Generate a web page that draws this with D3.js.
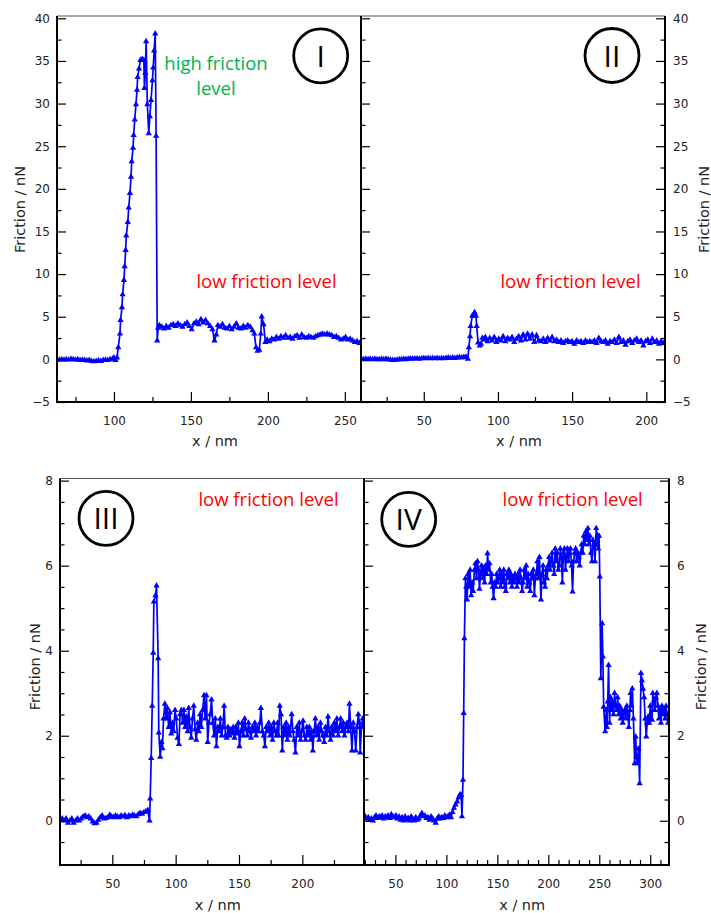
<!DOCTYPE html>
<html><head><meta charset="utf-8">
<script src="https://cdn.jsdelivr.net/npm/d3@7"></script>
<style>body{margin:0;background:#fff}svg{display:block}</style>
</head><body>
<svg id="c" width="711" height="913"></svg>
<script>
// ---------- DATA (x / nm, Friction / nN) ----------
const panelI = [[63,-0.1],[64.5,-0.05],[66,0],[67.5,-0.05],[69,0],[70.5,-0.05],[72,0.05],[73.5,0],[75,-0.05],[76.5,0],[78,-0.1],[79.5,-0.05],[81,-0.1],[82.5,-0.15],[84,-0.1],[85.5,-0.2],[87,-0.25],[88.5,-0.2],[90,-0.15],[91.5,-0.2],[93,-0.1],[94.5,-0.05],[96,-0.1],[97.5,0],[99,0.05],[100,0.2],[101,-0.1],[102,0.2],
[102.8,1.4],[103.9,3.0],[104.3,4.6],[105.2,6.1],[105.6,7.6],[106.5,9.3],[107,10.9],[107.6,12.8],[108,14.5],[109,16.1],[109.6,17.8],[110.4,19.5],[111.1,21.4],[111.5,23.2],[112.4,24.8],[112.8,26.3],[113.5,28.1],[114.3,29.9],[115,31.6],[115.4,33.1],[116.3,34.1],[117.2,35.1],[118.3,35.2],[119.4,35.1],[119.8,31.8],[120.4,33.6],[120.9,37.3],[121.7,29.9],[122.6,26.5],[123.3,28.5],[124.1,30.4],[125,32.7],[125.5,34.2],[126.1,36.2],[126.8,38.2],[127.4,26.2],[128.1,2.2],[128.7,3.7],
[129.5,4.0],[131,3.8],[132.5,3.6],[134,3.9],[135.5,3.7],[137,4.0],[138.5,4.1],[140,3.9],[141.5,4.2],[143,4.0],[144.5,3.8],[146,4.1],[147.5,4.3],[149,3.9],[150.5,3.5],[152,4.2],[153.5,4.4],[155,4.1],[156.5,4.7],[158,4.3],[159.5,4.6],[161,4.2],[162.5,3.9],[164,3.5],[165.3,2.2],[166.5,2.9],[167.5,4.0],[169,3.8],[170.5,4.1],[172,3.7],[173.5,3.6],[175,3.9],[176.5,3.5],[178,3.8],[179.5,4.2],[181,3.7],[182.5,3.6],[184,3.9],[185.5,3.7],[187,4.0],[188.5,3.8],[190,3.4],[191.2,3.0],[192.3,1.4],[193.3,1.0],[194.4,1.1],[195.4,3.0],[196,5.0],[197.2,4.1],[198.4,2.0],[199.5,2.3],[201,2.1],[202.5,2.4],[204,2.3],[205.5,2.6],[207,2.4],[208.5,2.7],[210,2.5],[211.5,2.8],[213,2.5],[214.5,2.6],[216,2.4],[217.5,2.7],[219,2.8],[220.5,2.5],[222,2.9],[223.5,2.6],[225,2.5],[226.5,2.7],[228,2.6],[229.5,2.5],[231,2.7],[232.5,2.8],[234,2.9],[235.5,3.0],[237,2.9],[238.5,3.0],[240,2.9],[241.5,2.8],[243,2.6],[244.5,2.7],[246,2.5],[247.5,2.3],[249,2.4],[250.5,2.6],[252,2.3],[253.5,2.4],[255,2.2],[256.5,2.0],[258,2.1],[259.5,1.9],[261,2.0]];

const panelII = [[8,0.05],[9.5,0.0],[11,0.05],[12.5,0.0],[14,0.05],[15.5,0.0],[17,0.05],[18.5,0.0],[20,0.0],[21.5,0.05],[23,0.0],[24.5,0.05],[26,0.0],[27.5,-0.05],[29,-0.1],[30.5,-0.1],[32,-0.05],[33.5,0.0],[35,0.0],[36.5,0.05],[38,0.0],[39.5,0.05],[41,0.1],[42.5,0.05],[44,0.1],[45.5,0.1],[47,0.05],[48.5,0.1],[50,0.15],[51.5,0.1],[53,0.15],[54.5,0.1],[56,0.15],[57.5,0.1],[59,0.15],[60.5,0.1],[62,0.15],[63.5,0.1],[65,0.15],[66.5,0.2],[68,0.15],[69.5,0.2],[71,0.15],[72.5,0.2],[74,0.25],[75.5,0.2],[77,0.25],[78.5,0.3],[79.7,0.05],
[80.4,1.4],[81.2,2.7],[81.6,3.9],[82.7,5.1],[83.6,5.3],[84.3,5.5],[85.2,5.1],[85.7,3.9],[86.6,1.95],[87.7,1.6],[88.6,1.8],[89.5,2.5],[90.5,2.3],
[91.5,2.6],[93,2.1],[94.5,2.5],[96,2.2],[97.5,2.6],[99,2.0],[100.5,2.4],[102,2.2],[103.5,2.7],[105,2.1],[106.5,2.5],[108,2.3],[109.5,2.6],[111,2.0],[112.5,2.4],[114,2.7],[115.5,2.2],[117,2.9],[118.5,2.3],[120,3.0],[121.5,2.4],[123,2.9],[124.5,2.0],[126,2.8],[127.5,2.2],[129,2.1],[130.5,2.4],[132,2.0],[133.5,2.5],[135,2.2],[136.5,2.6],[138,2.1],[139.5,2.3],[141,2.0],[142.5,2.2],[144,1.9],[145.5,2.1],[147,2.2],[148.5,2.0],[150,2.1],[151.5,1.8],[153,2.2],[154.5,2.0],[156,2.1],[157.5,1.9],[159,2.2],[160.5,2.0],[162,2.1],[163.5,2.0],[165,2.2],[166.5,1.9],[168,2.5],[169.5,2.1],[171,2.0],[172.5,2.2],[174,1.8],[175.5,2.1],[177,2.0],[178.5,2.3],[180,1.9],[181.5,2.6],[183,2.0],[184.5,2.2],[186,1.7],[187.5,2.1],[189,2.3],[190.5,1.9],[192,2.2],[193.5,2.4],[195,2.0],[196.5,2.2],[198,1.6],[199.5,2.1],[201,2.3],[202.5,1.9],[204,2.4],[205.5,2.0],[207,2.2],[208.5,1.8],[210,2.1],[211.5,1.9],[213,2.0]];

const panelIII = [[9,0.03],[10.5,0.05],[12,0.0],[13.5,0.05],[15,-0.05],[16.5,0.0],[18,0.05],[19.5,-0.05],[21,0.0],[22.5,0.05],[24,0.0],[25.5,0.05],[27,0.1],[28.5,0.12],[30,0.08],[31.5,0.1],[33,0.05],[34.5,-0.02],[36,-0.06],[37.5,-0.05],[39,0.02],[40.5,0.08],[42,0.12],[43.5,0.05],[45,0.06],[46.5,0.08],[48,0.14],[49.5,0.1],[51,0.08],[52.5,0.12],[54,0.1],[55.5,0.08],[57,0.12],[58.5,0.1],[60,0.13],[61.5,0.08],[63,0.12],[64.5,0.1],[66,0.14],[67.5,0.12],[69,0.1],[70.5,0.15],[72,0.18],[73.5,0.16],[75,0.2],[76.5,0.22],[78,0.25],[79.4,0.0],
[79.9,0.52],[80.7,1.47],[81.5,2.7],[82.3,3.95],[82.8,5.15],[84.1,5.3],[84.9,5.53],[86.2,3.82],[86.7,2.07],[87.8,1.5],[88.8,1.85],[89.6,1.7],[90.4,2.4],[91.5,2.75],
[92.5,2.4],[93.5,2.65],[94.5,2.2],[95.5,2.55],[96.5,2.05],[97.5,2.3],[98.5,2.1],[99.5,2.6],[100.5,2.4],[101.5,1.95],[102.6,1.8],[103.5,2.5],[104.5,2.6],[105.5,2.3],[106.5,2.6],[107.5,2.2],[108.5,2.45],[109.5,2.1],[110.3,2.65],[111.3,2.2],[112.3,1.95],[113.3,2.4],[114.3,2.7],[115.3,2.15],[116.3,1.9],[117.3,2.3],[118.3,2.1],[119.3,2.5],[120.3,2.2],[121.3,2.6],[122.4,2.95],[123.3,2.4],[124.3,2.95],[125.3,1.85],[126.3,2.3],[127.3,2.5],[128.3,2.85],[129.3,2.3],[130.3,2.0],[131.3,2.4],[132.2,1.75],[133.3,2.2],[134.3,2.1],[135.3,2.4],[136.3,2.0],[137.3,2.2],[138.3,2.7],[139.3,2.0],[140.3,1.95],[141.3,2.2],[142.5,2.0],[143.5,2.15],[144.5,2.05],[145.5,2.2],[146.5,1.95],[147.5,2.2],[148.5,2.05],[149.5,2.3],[150.4,1.75],[151.5,2.1],[152.5,2.3],[153.5,2.0],[154.5,2.4],[155.5,2.15],[156.5,2.0],[157.5,2.3],[158.5,2.1],[159.5,1.95],[160.5,2.2],[161.5,2.1],[162.5,2.3],[163.5,2.0],[164.5,2.2],[165.5,2.1],[166.5,2.3],[167.3,2.65],[168.5,2.1],[169.5,2.0],[170.5,1.75],[171.5,2.2],[172.5,2.1],[173.5,2.3],[174.5,2.0],[175.5,2.2],[176.5,1.9],[177.5,2.3],[178.5,2.1],[179.5,2.0],[180.5,2.3],[181.3,2.0],[182.2,2.7],[183.2,2.5],[184.2,1.65],[185.2,2.2],[186.2,2.0],[187.2,2.3],[188.2,1.9],[189.2,2.2],[190.2,2.0],[191.6,2.5],[192.6,2.1],[193.6,1.9],[194.6,1.6],[195.6,2.2],[196.6,2.0],[197.6,2.3],[198.6,1.9],[199.6,2.1],[200.6,2.35],[201.6,2.0],[202.6,1.9],[203.6,2.2],[204.6,2.0],[205.6,2.2],[206.6,1.9],[207.5,2.1],[208.3,1.65],[209.3,2.1],[210.3,2.4],[211.3,2.0],[212.3,2.2],[213.3,1.9],[214.3,2.3],[215.3,2.1],[216.3,2.0],[217.3,1.85],[218.3,2.2],[219.3,2.0],[220.3,2.45],[221.3,2.1],[222.3,1.9],[223.3,2.2],[224.3,2.0],[225.3,2.3],[226.3,2.1],[227.3,2.4],[228.3,2.0],[229.3,2.2],[230.3,2.4],[231.3,2.1],[232.3,2.3],[233.3,2.0],[234.3,2.2],[235.3,2.3],[236.3,2.1],[237.2,2.75],[238.2,2.2],[239.2,1.65],[240.2,2.3],[241.2,2.1],[242.2,1.65],[243.2,2.2],[244.2,2.5],[245.1,2.3],[245.7,1.6],[246.7,2.2],[247.7,2.4],[248.7,2.2],[249.5,2.3]];

const panelIV = [[19,0.05],[20.5,0.1],[22,0.05],[23.5,0.08],[25,0.02],[26.5,0.05],[28,0.0],[29.5,0.08],[31,0.12],[32.5,0.06],[34,0.1],[35.5,0.08],[37,0.12],[38.5,0.05],[40,0.1],[41.5,0.08],[43,0.12],[44.5,0.06],[46,0.15],[47.5,0.1],[49,0.08],[50.5,0.12],[52,0.05],[53.5,0.1],[55,0.02],[56.5,0.08],[58,0.0],[59.5,0.1],[61,0.02],[62.5,0.06],[64,0.0],[65.5,0.1],[67,0.05],[68.5,0.0],[70,0.08],[71.5,0.02],[73,0.05],[74.5,0.12],[76,0.18],[77.5,0.1],[79,0.12],[80.5,0.06],[82,0.08],[83.5,0.02],[85,0.1],[86.5,0.05],[88,0.0],[89.5,-0.05],[91,0.05],[92.5,0.1],[94,0.05],[95.5,0.08],[97,0.06],[98.5,0.12],[100,0.08],[101.5,0.1],[103,0.14],[104.5,0.08],[106,0.2],[107.5,0.3],[109,0.38],[110.5,0.45],[112,0.55],[113.5,0.62],[114.5,0.6],[115.3,0.1],
[116.3,0.96],[117,2.53],[117.7,4.29],[118.7,5.7],[119.5,5.5],[120.3,5.2],
[121.3,5.8],[122.3,5.5],[123.3,5.9],[124.3,5.3],[125.3,5.6],[126.3,5.4],[127.5,5.9],[128.5,6.05],[129.5,5.7],[130.5,6.1],[131.5,5.9],[132.5,5.45],[133.5,5.8],[134.5,6.0],[135.5,5.7],[136.5,5.95],[137.5,5.6],[138.5,6.0],[139.5,5.8],[140.4,6.29],[141.4,5.9],[142.4,6.05],[143.5,5.6],[144.5,5.8],[145.4,5.5],[146.3,5.23],[147.3,5.6],[148.3,5.5],[149.3,5.8],[150.3,5.6],[151.3,5.7],[152.3,5.9],[153.3,5.5],[154.3,5.8],[155.3,5.6],[156.3,5.9],[157.3,5.5],[158.3,5.4],[159.3,5.8],[160.3,5.7],[161.3,5.9],[162.3,5.6],[163.3,5.8],[164.3,5.5],[165.3,5.7],[166.3,5.6],[167.3,5.8],[168.3,5.7],[169.3,5.5],[170.3,5.8],[171.3,5.6],[172.3,5.9],[173.3,5.7],[174.3,5.4],[175.3,5.6],[176.3,5.9],[177.3,5.7],[178.3,6.0],[179.3,5.5],[180.3,5.8],[181.3,5.6],[182.3,5.4],[183.3,5.8],[184.3,5.7],[185.3,5.9],[186.3,5.3],[187.3,5.7],[188.3,5.8],[189.3,6.1],[190.3,5.7],[191.3,6.2],[192.8,5.2],[193.8,5.8],[194.8,6.0],[195.8,5.6],[196.8,5.5],[197.8,5.9],[198.8,5.7],[199.8,6.0],[200.8,6.2],[201.8,5.9],[202.8,6.1],[203.8,6.3],[204.8,6.0],[205.8,5.8],[206.8,6.4],[207.8,6.1],[208.8,6.3],[209.8,5.9],[210.8,6.0],[211.8,6.4],[212.8,6.2],[213.8,5.6],[214.8,6.3],[215.8,6.4],[216.8,5.9],[217.8,6.2],[218.8,6.4],[219.8,6.1],[220.8,6.3],[221.8,6.4],[222.8,6.0],[223.8,5.39],[224.8,6.1],[225.8,6.3],[226.8,6.4],[227.8,6.1],[228.8,6.3],[229.8,6.2],[230.8,6.0],[231.8,6.3],[232.8,6.5],[233.8,6.3],[234.8,6.7],[235.8,6.5],[236.8,6.8],[237.8,6.6],[238.8,6.88],[239.8,6.5],[240.8,6.7],[241.8,6.3],[242.8,6.1],[243.8,6.6],[244.8,6.5],[245.8,6.1],[246.5,6.5],[247,6.88],[248,6.7],[249,6.4],[249.8,6.7],[250.5,5.74],[251.5,3.35],[252.8,4.64],[253.5,3.86],[254.3,2.68],[255.8,2.1],[256.8,2.6],[257.5,2.2],[258.3,2.8],[259.1,3.66],[260.1,2.3],[261,2.9],[262,2.6],[263,2.8],[264,2.5],[265,3.0],[266,2.7],[267,2.6],[268,2.9],[269,2.5],[270,2.7],[271,2.4],[272,2.6],[273,2.3],[274,2.5],[275,2.6],[276,2.4],[277,2.7],[278,2.5],[279,2.2],[280,2.6],[280.7,3.0],[281.5,2.7],[282.4,3.11],[283.5,2.4],[284.7,1.35],[285.7,1.98],[286.5,1.5],[287.5,1.35],[288.5,1.7],[289.6,0.88],[290.9,3.47],[291.9,3.3],[292.9,3.1],[294,2.9],[295,2.4],[296.1,1.98],[297,2.3],[298,2.45],[299,2.3],[300,2.7],[301,2.4],[301.8,2.37],[302.5,3.0],[303.5,2.8],[304.5,2.6],[305.5,2.9],[306.5,3.0],[307.5,2.7],[308.5,2.4],[309.5,2.6],[310.5,2.3],[311.5,2.7],[312.5,2.5],[313.5,2.6],[314.5,2.4],[315.5,2.7],[316.5,2.5],[317.5,2.3],[318.3,2.4]];

// tick values
const yMajorTop = [-5,0,5,10,15,20,25,30,35,40];
const yMinorTop = [-2.5,2.5,7.5,12.5,17.5,22.5,27.5,32.5,37.5];
const yMajorBot = [0,2,4,6,8];
const yMinorBot = [-0.5,0.5,1,1.5,2.5,3,3.5,4.5,5,5.5,6.5,7,7.5];
const xMajorI = [100,150,200,250], xMinorI = [75,125,175,225];
const xMajorII = [50,100,150,200], xMinorII = [25,75,125,175];
const xMajorIII = [50,100,150,200], xMinorIII = [25,75,125,175,225];
const xMajorIV = [50,100,150,200,250,300];
const xMinorIV = [20,30,40,60,70,80,90,110,120,130,140,160,170,180,190,210,220,230,240,260,270,280,290,310];
const panelNames = ["I","II","III","IV"];
const annotLow = "low friction level";
const annotHigh = ["high friction","level"];

// ---------- LAYOUT ----------
const svg = d3.select("#c");
const tickFont = "DejaVu Sans, Verdana, sans-serif";
const panels = [
 {name:panelNames[0], data:panelI, xd:[63,260.5], yd:[-5,40.27], L:57, R:361, T:16, B:402, side:"left",
  xM:xMajorI, xm:xMinorI, yM:yMajorTop, ym:yMinorTop, circ:[320.7,55.8], low:[266.5,288], xt:[215,446], yt:[25,209.5]},
 {name:panelNames[1], data:panelII, xd:[7.7,212.6], yd:[-5,40.27], L:361, R:665, T:16, B:402, side:"right",
  xM:xMajorII, xm:xMinorII, yM:yMajorTop, ym:yMinorTop, circ:[612,55.5], low:[570.5,288], xt:[519,446], yt:[708.5,209.5]},
 {name:panelNames[2], data:panelIII, xd:[8.7,248.7], yd:[-1.04,8.05], L:60, R:364, T:478.5, B:865, side:"left",
  xM:xMajorIII, xm:xMinorIII, yM:yMajorBot, ym:yMinorBot, circ:[106,518.3], low:[268.5,505.5], xt:[217.8,909.5], yt:[39.5,666.7]},
 {name:panelNames[3], data:panelIV, xd:[19.2,318.4], yd:[-1.04,8.05], L:364, R:669, T:478.5, B:865, side:"right",
  xM:xMajorIV, xm:xMinorIV, yM:yMajorBot, ym:yMinorBot, circ:[408.7,519.3], low:[572.7,505.5], xt:[522.2,909.5], yt:[706,666.7]}
];

panels.forEach((p,i)=>{
  const x = d3.scaleLinear().domain(p.xd).range([p.L,p.R]);
  const y = d3.scaleLinear().domain(p.yd).range([p.B,p.T]);
  const g = svg.append("g");
  const cid = "clip"+i;
  svg.append("clipPath").attr("id",cid).append("rect")
    .attr("x",p.L).attr("y",p.T).attr("width",p.R-p.L).attr("height",p.B-p.T);

  // data
  const dg = g.append("g").attr("clip-path",`url(#${cid})`);
  const line = d3.line().x(d=>x(d[0])).y(d=>y(d[1]));
  dg.append("path").datum(p.data).attr("d",line)
    .attr("fill","none").attr("stroke","#0000ff").attr("stroke-width",1.7).attr("stroke-linejoin","round");
  const sym = d3.symbol().type(d3.symbolTriangle).size(17);
  dg.selectAll("path.m").data(p.data).join("path").attr("class","m")
    .attr("transform",d=>`translate(${x(d[0])},${y(d[1])})`).attr("d",sym).attr("fill","#0000ff");

  // axes
  const styleAxis = sel => {
    sel.select(".domain").remove();
    sel.selectAll("line").attr("stroke","#000").attr("stroke-width",1.2);
    sel.selectAll("text").attr("font-family",tickFont).attr("font-size","12px").attr("fill","#222");
  };
  g.append("g").attr("transform",`translate(0,${p.B})`)
    .call(d3.axisBottom(x).tickValues(p.xM).tickSize(-10).tickPadding(14).tickFormat(d3.format("d"))).call(styleAxis);
  g.append("g").attr("transform",`translate(0,${p.B})`)
    .call(d3.axisBottom(x).tickValues(p.xm).tickSize(-5).tickFormat("")).call(styleAxis);
  if (p.side==="left") {
    g.append("g").attr("transform",`translate(${p.L},0)`)
      .call(d3.axisLeft(y).tickValues(p.yM).tickSize(-9).tickPadding(7)).call(styleAxis);
    g.append("g").attr("transform",`translate(${p.L},0)`)
      .call(d3.axisLeft(y).tickValues(p.ym).tickSize(-4.5).tickFormat("")).call(styleAxis);
  } else {
    g.append("g").attr("transform",`translate(${p.R},0)`)
      .call(d3.axisRight(y).tickValues(p.yM).tickSize(-9).tickPadding(8)).call(styleAxis);
    g.append("g").attr("transform",`translate(${p.R},0)`)
      .call(d3.axisRight(y).tickValues(p.ym).tickSize(-4.5).tickFormat("")).call(styleAxis);
    g.append("g").attr("transform",`translate(${p.L},0)`)
      .call(d3.axisLeft(y).tickValues(p.yM).tickSize(-9).tickFormat("")).call(styleAxis);
    g.append("g").attr("transform",`translate(${p.L},0)`)
      .call(d3.axisLeft(y).tickValues(p.ym).tickSize(-4.5).tickFormat("")).call(styleAxis);
  }
  // frame
  g.append("line").attr("x1",p.L).attr("x2",p.R).attr("y1",p.T).attr("y2",p.T).attr("stroke","#555").attr("stroke-width",1.2);
  g.append("line").attr("x1",p.L).attr("x2",p.R).attr("y1",p.B).attr("y2",p.B).attr("stroke","#000").attr("stroke-width",2);
  g.append("line").attr("x1",p.L).attr("x2",p.L).attr("y1",p.T).attr("y2",p.B+1).attr("stroke","#000").attr("stroke-width",2);
  g.append("line").attr("x1",p.R).attr("x2",p.R).attr("y1",p.T).attr("y2",p.B+1).attr("stroke","#000").attr("stroke-width",2);

  // axis titles
  g.append("text").attr("x",p.xt[0]).attr("y",p.xt[1]).attr("text-anchor","middle")
    .attr("font-family",tickFont).attr("font-size","14.5px").attr("fill","#222").text("x / nm");
  g.append("text").attr("transform",`translate(${p.yt[0]},${p.yt[1]}) rotate(-90)`).attr("text-anchor","middle")
    .attr("font-family",tickFont).attr("font-size","14.5px").attr("fill","#222").text("Friction / nN");

  // circle label
  g.append("circle").attr("cx",p.circ[0]).attr("cy",p.circ[1]).attr("r",27)
    .attr("fill","none").attr("stroke","#000").attr("stroke-width",2.8);
  g.append("text").attr("x",p.circ[0]).attr("y",p.circ[1]+11).attr("text-anchor","middle")
    .attr("font-family","Open Sans, DejaVu Sans, sans-serif").attr("font-size","30px").attr("fill","#000").text(p.name);

  // annotation
  g.append("text").attr("x",p.low[0]).attr("y",p.low[1]).attr("text-anchor","middle")
    .attr("font-family","Open Sans, sans-serif").attr("font-size","18.5px").attr("fill","#ff0000").text(annotLow);
});

svg.append("text").attr("x",216).attr("y",70).attr("text-anchor","middle")
  .attr("font-family","Open Sans, sans-serif").attr("font-size","18.5px").attr("fill","#00b050").text(annotHigh[0]);
svg.append("text").attr("x",216).attr("y",95).attr("text-anchor","middle")
  .attr("font-family","Open Sans, sans-serif").attr("font-size","18.5px").attr("fill","#00b050").text(annotHigh[1]);
</script>
</body></html>
